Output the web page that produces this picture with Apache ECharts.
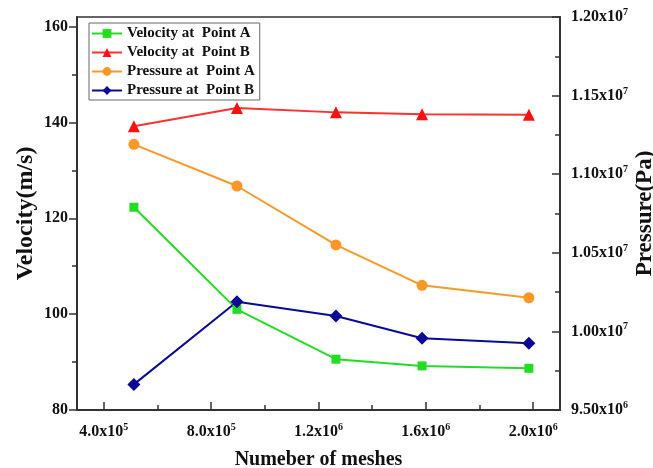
<!DOCTYPE html>
<html><head><meta charset="utf-8">
<script src="https://cdn.jsdelivr.net/npm/echarts@6/dist/echarts.min.js"></script>
<style>html,body{margin:0;padding:0;background:#fff}#c{width:653px;height:468px}</style>
</head><body><div id="c"></div>
<script>
const meshes = [5.12e5, 8.96e5, 1.265e6, 1.586e6, 1.984e6];
const velocityA = [122.3, 101.0, 90.6, 89.2, 88.7];
const velocityB = [139.2, 143.0, 142.1, 141.7, 141.6];
const pressureA = [1.119e7, 1.0925e7, 1.055e7, 1.0293e7, 1.0214e7];
const pressureB = [9.663e6, 1.0189e7, 1.0098e7, 9.956e6, 9.924e6];
const xMajorTicks = [4e5, 8e5, 1.2e6, 1.6e6, 2.0e6];
const xMinorTicks = [6e5, 1.0e6, 1.4e6, 1.8e6];
const leftMajorTicks = [80, 100, 120, 140, 160];
const leftMinorTicks = [90, 110, 130, 150];
const seriesNames = ['Velocity at  Point A', 'Velocity at  Point B', 'Pressure at  Point A', 'Pressure at  Point B'];

const FONT = '"Liberation Serif", "DejaVu Serif", serif';
const AX = '#333';

function sci(v, digits) {
  const e = Math.floor(Math.log10(v) + 1e-9);
  const m = (v / Math.pow(10, e)).toFixed(digits);
  return '{n|' + m + 'x10}{s|' + e + '}';
}
const rich = {
  n: {fontFamily: FONT, fontWeight: 'bold', fontSize: 16, color: '#111'},
  s: {fontFamily: FONT, fontWeight: 'bold', fontSize: 10, color: '#111', verticalAlign: 'top', padding: [0, 0, 9, 0]}
};
const nameStyle = (fs) => ({fontFamily: FONT, fontWeight: 'bold', fontSize: fs, color: '#111'});

const pair = (xs, ys) => xs.map((x, i) => [x, ys[i]]);

const chart = echarts.init(document.getElementById('c'));
chart.setOption({
  animation: false,
  backgroundColor: '#fff',
  grid: {left: 77, right: 93, top: 17, bottom: 58, show: true, borderColor: AX, borderWidth: 1.5,
         backgroundColor: 'transparent', outerBoundsMode: 'none', containLabel: false},
  legend: {
    left: 89, top: 23, orient: 'vertical', itemWidth: 30, itemHeight: 11, itemGap: 4,
    borderColor: '#666', borderWidth: 1, padding: [3, 5, 2, 2], backgroundColor: '#fff',
    textStyle: {fontFamily: FONT, fontWeight: 'bold', fontSize: 15, color: '#111'},
    data: seriesNames
  },
  xAxis: [{
    type: 'value', min: 3e5, max: 2.1e6,
    name: 'Numeber of meshes', nameLocation: 'middle', nameGap: 40, nameMoveOverlap: false, nameTextStyle: nameStyle(20),
    axisLine: {show: true, lineStyle: {color: AX, width: 2}},
    axisTick: {show: true, inside: true, length: 8, lineStyle: {color: AX, width: 1.5}, customValues: xMajorTicks},
    axisLabel: {margin: 12, customValues: xMajorTicks, formatter: v => sci(v, 1), rich: rich},
    splitLine: {show: false}
  }, {
    type: 'value', min: 3e5, max: 2.1e6, position: 'bottom',
    axisLine: {show: false},
    axisTick: {show: true, inside: true, length: 5, lineStyle: {color: AX, width: 1.5}, customValues: xMinorTicks},
    axisLabel: {show: false}, splitLine: {show: false}
  }],
  yAxis: [{
    type: 'value', min: 80, max: 162, position: 'left',
    name: 'Velocity(m/s)', nameLocation: 'middle', nameGap: 39, nameRotate: 90, nameMoveOverlap: false, nameTextStyle: nameStyle(24),
    axisLine: {show: true, lineStyle: {color: AX, width: 2}},
    axisTick: {show: true, inside: false, length: 8, lineStyle: {color: AX, width: 1.5}, customValues: leftMajorTicks},
    axisLabel: {margin: 9, customValues: leftMajorTicks, fontFamily: FONT, fontWeight: 'bold', fontSize: 16, color: '#111'},
    splitLine: {show: false}
  }, {
    type: 'value', min: 9.5e6, max: 1.2e7, interval: 5e5, position: 'right',
    name: 'Pressure(Pa)', nameLocation: 'middle', nameGap: 74, nameRotate: 90, nameMoveOverlap: false, nameTextStyle: nameStyle(23),
    axisLine: {show: true, lineStyle: {color: AX, width: 2}},
    axisTick: {show: true, inside: true, length: 8, lineStyle: {color: AX, width: 1.5}},
    minorTick: {show: true, splitNumber: 2, length: 5, lineStyle: {color: AX, width: 1.5}},
    axisLabel: {margin: 11, formatter: v => sci(v, 2), rich: rich, align: 'left'},
    splitLine: {show: false}
  }, {
    type: 'value', min: 80, max: 162, position: 'left',
    axisLine: {show: false},
    axisTick: {show: true, inside: false, length: 5, lineStyle: {color: AX, width: 1.5}, customValues: leftMinorTicks},
    axisLabel: {show: false}, splitLine: {show: false}
  }],
  series: [{
    name: seriesNames[0], type: 'line', xAxisIndex: 0, yAxisIndex: 0,
    data: pair(meshes, velocityA), symbol: 'rect', symbolSize: 9,
    itemStyle: {color: '#22dd22'}, lineStyle: {color: '#22dd22', width: 2}
  }, {
    name: seriesNames[1], type: 'line', xAxisIndex: 0, yAxisIndex: 0,
    data: pair(meshes, velocityB), symbol: 'triangle', symbolSize: 12,
    itemStyle: {color: '#ff1010'}, lineStyle: {color: '#ff3030', width: 2}
  }, {
    name: seriesNames[2], type: 'line', xAxisIndex: 0, yAxisIndex: 1,
    data: pair(meshes, pressureA), symbol: 'circle', symbolSize: 11,
    itemStyle: {color: '#fb9826'}, lineStyle: {color: '#fb9826', width: 2}
  }, {
    name: seriesNames[3], type: 'line', xAxisIndex: 0, yAxisIndex: 1,
    data: pair(meshes, pressureB), symbol: 'diamond', symbolSize: 13,
    itemStyle: {color: '#0a0a96'}, lineStyle: {color: '#0a0a96', width: 2}
  }]
});
</script></body></html>
